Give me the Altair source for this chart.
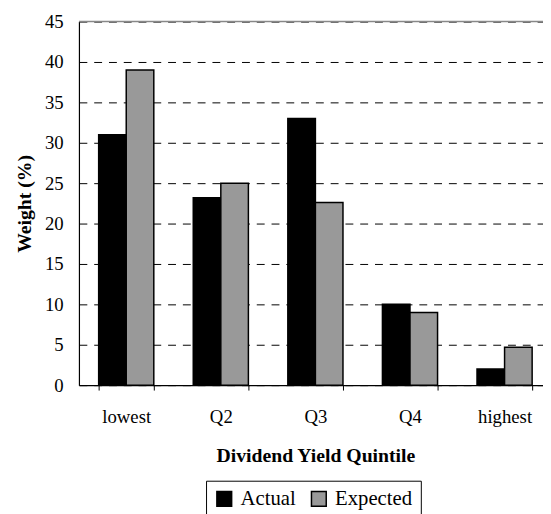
import altair as alt
import pandas as pd

categories = ["lowest", "Q2", "Q3", "Q4", "highest"]
actual = [31, 23.2, 33, 10, 2]
expected = [39, 25, 22.6, 9, 4.7]
series = ["Actual", "Expected"]
top_line = [45]

rows = []
for c, a, e in zip(categories, actual, expected):
    rows.append({"cat": c, "series": "Actual", "value": a})
    rows.append({"cat": c, "series": "Expected", "value": e})
df = pd.DataFrame(rows)

FONT = "'Liberation Serif', 'Times New Roman', serif"

bars = alt.Chart(df).mark_bar(stroke="black", strokeWidth=1.5).encode(
    x=alt.X("cat:N", sort=categories,
            scale=alt.Scale(paddingInner=0.417, paddingOuter=0.2085, range=[0, 480]),
            axis=alt.Axis(title="Dividend Yield Quintile", labelAngle=0,
                          tickBand="extent", tickSize=5, tickColor="black",
                          domainColor="black", domainWidth=1.2,
                          labelFont=FONT, labelFontSize=19, labelColor="black",
                          labelPadding=18,
                          titleFont=FONT, titleFontSize=20, titleFontWeight="bold",
                          titleColor="black", titlePadding=19)),
    xOffset=alt.XOffset("series:N", sort=series, scale=alt.Scale(paddingInner=0, paddingOuter=0)),
    y=alt.Y("value:Q",
            scale=alt.Scale(domain=[0, 45], nice=False),
            axis=alt.Axis(title="Weight (%)", values=list(range(0, 50, 5)),
                          ticks=False, domainColor="black", domainWidth=1.2,
                          grid=True, gridColor="black", gridDash=[8, 7], gridWidth=1,
                          labelFont=FONT, labelFontSize=19, labelColor="black",
                          labelPadding=16,
                          titleFont=FONT, titleFontSize=20, titleFontWeight="bold",
                          titleColor="black", titlePadding=10)),
    fill=alt.Fill("series:N", sort=series,
                  scale=alt.Scale(domain=series, range=["#000000", "#999999"]),
                  legend=alt.Legend(title=None, orient="none", direction="horizontal",
                                    legendX=129, legendY=466,
                                    strokeColor="black", padding=8,
                                    symbolType="square", symbolSize=225,
                                    symbolStrokeColor="black", symbolStrokeWidth=1.5,
                                    labelFont=FONT, labelFontSize=21, labelColor="black",
                                    labelOffset=6, columnPadding=13)),
)

top = alt.Chart(pd.DataFrame({"v": top_line})).mark_rule(
    color="#888888", strokeWidth=1.5
).encode(y=alt.Y("v:Q"))

chart = alt.layer(bars, top).properties(
    width=471, height=369,
    autosize=alt.AutoSizeParams(type="none"),
    padding={"left": 72, "top": 10, "right": 0, "bottom": 128},
).configure_view(
    stroke=None
)

chart.save("out.html", embed_options={"renderer": "svg", "actions": False})
